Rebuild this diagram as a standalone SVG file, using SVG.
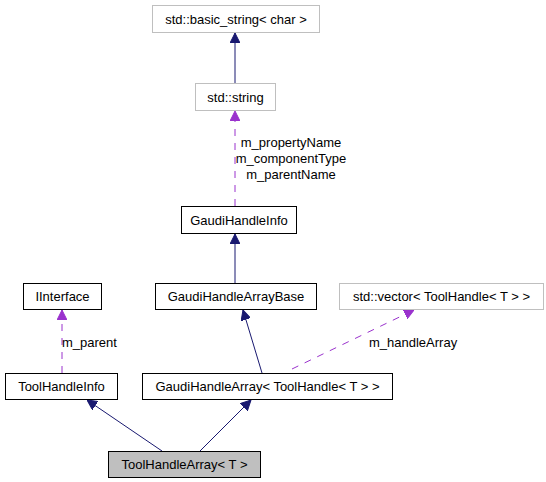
<svg xmlns="http://www.w3.org/2000/svg" width="546" height="482" viewBox="0 0 546 482">
<style>
text{font-family:"Liberation Sans",Arial,sans-serif;font-size:13px;fill:#000}
.n rect{fill:#fff;stroke:#000;stroke-width:1}
.g rect{fill:#fff;stroke:#bfbfbf;stroke-width:1}
.c rect{fill:#bfbfbf;stroke:#000;stroke-width:1}
.n text,.g text,.c text{text-anchor:middle}
.inh{stroke:#191970;fill:none;stroke-width:1}
.use{stroke:#9a32cd;fill:none;stroke-width:1;stroke-dasharray:7,7}
.lbl{text-anchor:middle}
</style>
<defs>
<marker id="ah" markerWidth="10" markerHeight="10" viewBox="0 0 10 10" refX="10" refY="5" orient="auto" markerUnits="userSpaceOnUse"><path d="M0,0 L10,5 L0,10 z" fill="#191970" stroke="#191970"/></marker>
<marker id="ap" markerWidth="10" markerHeight="10" viewBox="0 0 10 10" refX="10" refY="5" orient="auto" markerUnits="userSpaceOnUse"><path d="M0,0 L10,5 L0,10 z" fill="#9a32cd" stroke="#9a32cd"/></marker>
</defs>
<rect width="546" height="482" fill="#fff"/>
<g id="connectors">
<path class="inh" d="M235,83 L235,33" marker-end="url(#ah)"/>
<path class="use" d="M235,206 L235,111" marker-end="url(#ap)"/>
<path class="inh" d="M235,283 L235,234" marker-end="url(#ah)"/>
<path class="use" d="M62,373 L62,310" marker-end="url(#ap)"/>
<path class="inh" d="M262,373 L243,310" marker-end="url(#ah)"/>
<path class="use" d="M292,369 L414,310" marker-end="url(#ap)"/>
<path class="inh" d="M162,451 L87,400" marker-end="url(#ah)"/>
<path class="inh" d="M200,451 L251,400" marker-end="url(#ah)"/>
<text class="lbl" x="291" y="147">m_propertyName</text>
<text class="lbl" x="291" y="163">m_componentType</text>
<text class="lbl" x="291" y="179">m_parentName</text>
<text x="62" y="347">m_parent</text>
<text x="369" y="347">m_handleArray</text>
</g>
<g id="basic_string" class="g"><rect x="152.5" y="5.5" width="167" height="27"/><text x="236" y="23.5">std::basic_string&lt; char &gt;</text></g>
<g id="string" class="g"><rect x="195.5" y="83.5" width="80" height="27"/><text x="235.5" y="101.5">std::string</text></g>
<g id="GaudiHandleInfo" class="n"><rect x="181.5" y="206.5" width="115" height="27"/><text x="239" y="224.5">GaudiHandleInfo</text></g>
<g id="IInterface" class="n"><rect x="23.5" y="283.5" width="78" height="26"/><text x="62.5" y="301">IInterface</text></g>
<g id="GaudiHandleArrayBase" class="n"><rect x="155.5" y="283.5" width="161" height="26"/><text x="236" y="301">GaudiHandleArrayBase</text></g>
<g id="vector" class="g"><rect x="339.5" y="283.5" width="204" height="26"/><text x="441.5" y="301">std::vector&lt; ToolHandle&lt; T &gt; &gt;</text></g>
<g id="ToolHandleInfo" class="n"><rect x="5.5" y="373.5" width="112" height="26"/><text x="61.5" y="391">ToolHandleInfo</text></g>
<g id="GaudiHandleArray" class="n"><rect x="142.5" y="373.5" width="250" height="26"/><text x="267.5" y="391">GaudiHandleArray&lt; ToolHandle&lt; T &gt; &gt;</text></g>
<g id="ToolHandleArray" class="c"><rect x="108.5" y="451.5" width="152" height="26"/><text x="184.5" y="469">ToolHandleArray&lt; T &gt;</text></g>
</svg>
